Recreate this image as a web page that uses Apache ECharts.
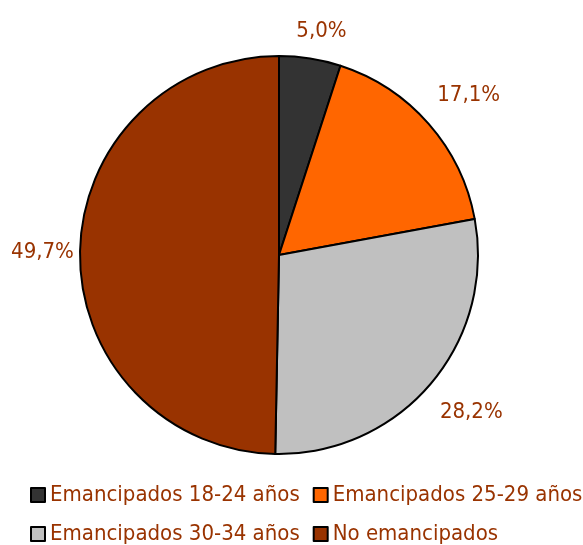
<!DOCTYPE html>
<html>
<head>
<meta charset="utf-8">
<script src="https://cdn.jsdelivr.net/npm/echarts@6/dist/echarts.min.js"></script>
<style>
  html, body { margin: 0; padding: 0; background: #fff; }
  #chart { width: 583px; height: 545px; }
</style>
</head>
<body>
<div id="chart"></div>
<script>
// categorías y valores (%)
var categorias = ['Emancipados 18-24 años', 'Emancipados 25-29 años', 'Emancipados 30-34 años', 'No emancipados'];
var valores = [5.0, 17.1, 28.2, 49.7];
var colores = ['#333333', '#ff6600', '#c0c0c0', '#993300'];

var fuente = "'Liberation Sans Narrow', 'DejaVu Sans Condensed', sans-serif";
var colorTexto = '#993300';

var centro = [279, 255];
var radio = 199;

var myChart = echarts.init(document.getElementById('chart'));

var datos = [];
for (var i = 0; i < categorias.length; i++) {
    datos.push({ name: categorias[i], value: valores[i], itemStyle: { color: colores[i] } });
}

// ángulo medio de cada porción (grados desde arriba, sentido horario)
var total = 0;
for (var i = 0; i < valores.length; i++) total += valores[i];
var angMedio = [];
var acum = 0;
for (var i = 0; i < valores.length; i++) {
    angMedio.push((acum + valores[i] / 2) / total * 360);
    acum += valores[i];
}

function fmt(p) {
    return p.value.toFixed(1).replace('.', ',') + '%';
}

var estiloLeyenda = {
    orient: 'horizontal',
    left: 25,
    width: 560,
    icon: 'rect',
    itemWidth: 14,
    itemHeight: 14,
    itemGap: 13,
    textStyle: { fontFamily: fuente, fontSize: 22, color: colorTexto }
};

var option = {
    animation: false,
    color: colores,
    legend: [
        Object.assign({}, estiloLeyenda, { top: 479, data: [categorias[0], categorias[1]] }),
        Object.assign({}, estiloLeyenda, { top: 518, data: [categorias[2], categorias[3]] })
    ],
    series: [
        {
            type: 'pie',
            center: centro,
            radius: [0, radio],
            startAngle: 90,
            clockwise: true,
            label: {
                show: true,
                position: 'outside',
                formatter: fmt,
                fontFamily: fuente,
                fontSize: 22,
                color: colorTexto,
                overflow: 'none',
                bleedMargin: 0,
                edgeDistance: 0
            },
            labelLine: { show: false },
            // etiqueta fuera del borde, como en Excel
            labelLayout: function (p) {
                var a = angMedio[p.dataIndex] * Math.PI / 180;
                var s = Math.sin(a), c = Math.cos(a);
                var w = p.labelRect.width, h = p.labelRect.height;
                var d = radio + 13 + w / 2 * Math.abs(s) + h / 2 * Math.abs(c);
                return {
                    x: centro[0] + d * s + 7,
                    y: centro[1] - d * c,
                    align: 'center',
                    verticalAlign: 'middle'
                };
            },
            itemStyle: { borderColor: '#000', borderWidth: 2 },
            emphasis: { disabled: true },
            data: datos
        }
    ]
};

myChart.setOption(option);
</script>
</body>
</html>
